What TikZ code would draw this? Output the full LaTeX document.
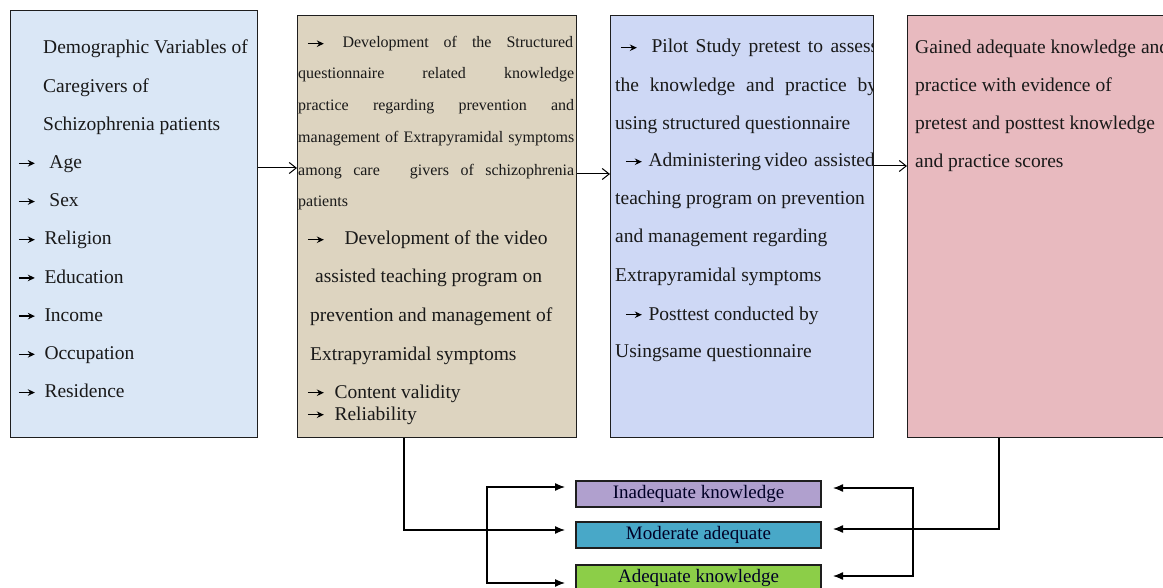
\documentclass[tikz,border=0pt]{standalone}
\usepackage{fontspec}
\setmainfont{Liberation Serif}
\usetikzlibrary{arrows.meta}
\definecolor{cA}{RGB}{218,231,246}
\definecolor{cB}{RGB}{221,212,192}
\definecolor{cC}{RGB}{206,216,245}
\definecolor{cD}{RGB}{232,186,191}
\definecolor{cI}{RGB}{176,160,206}
\definecolor{cM}{RGB}{72,168,200}
\definecolor{cG}{RGB}{140,206,72}
\definecolor{edge}{RGB}{30,30,30}
\newcommand\tarr{\tikz[baseline=-0.27em]\draw[black,line width=1.3pt,-{Stealth[length=7pt,width=6.5pt]}] (0pt,0pt) -- (16pt,0pt);}
\newcommand\bigf{\fontsize{19.5}{23}\selectfont}
\newcommand\smallf{\fontsize{16}{19}\selectfont}
\begin{document}
\begin{tikzpicture}[x=1pt,y=-1pt,
  panel/.style={draw=edge,line width=1.4pt,anchor=north west,inner sep=0pt},
  ln/.style={anchor=base west,inner sep=0pt,font=\bigf,text=black!90},
  sln/.style={anchor=base west,inner sep=0pt,font=\smallf,text=black!90},
  res/.style={draw=edge,line width=1.4pt,minimum width=245pt,minimum height=26pt,inner sep=0pt,font=\fontsize{19}{22}\selectfont,text=black!85!blue},
  flow/.style={line width=1pt,-{Straight Barb[length=7pt,width=11pt]}},
  bar/.style={line width=1.3pt}
]
\useasboundingbox (0,0) rectangle (1163,588);
\fill[white] (0,0) rectangle (1163,588);
% panels
\node[panel,fill=cA,minimum width=247pt,minimum height=427pt] (B1) at (10,10) {};
\node[panel,fill=cB,minimum width=279pt,minimum height=422pt] (B2) at (297,15) {};
\node[panel,fill=cC,minimum width=263pt,minimum height=422pt] (B3) at (610,15) {};
\node[panel,fill=cD,minimum width=270pt,minimum height=422pt] (B4) at (907,15) {};
% box 1 text
\node[ln] (a1) at (43,54) {Demographic Variables of};
\node[ln] (a2) at (43,92.2) {Caregivers of};
\node[ln] (a3) at (43,130.4) {Schizophrenia patients};
\node[ln] (a4) at (18,168.6) {\tarr\hspace{14pt}Age};
\node[ln] (a5) at (18,206.8) {\tarr\hspace{14pt}Sex};
\node[ln] (a6) at (18,245) {\tarr\hspace{9pt}Religion};
\node[ln] (a7) at (18,283.2) {\tarr\hspace{9pt}Education};
\node[ln] (a8) at (18,321.4) {\tarr\hspace{9pt}Income};
\node[ln] (a9) at (18,359.6) {\tarr\hspace{9pt}Occupation};
\node[ln] (a10) at (18,397.8) {\tarr\hspace{9pt}Residence};
% box 2 text
\node[sln] (b1) at (307,48) {\makebox[266pt][s]{\tarr\hspace{18pt}Development of the Structured}};
\node[sln] (b2) at (298,79) {\makebox[276pt][s]{questionnaire related knowledge}};
\node[sln] (b3) at (298,111) {\makebox[276pt][s]{practice regarding prevention and}};
\node[sln] (b4) at (298,143) {\makebox[276pt][s]{management of Extrapyramidal symptoms}};
\node[sln] (b5) at (298,176) {\makebox[276pt][s]{among care\hspace{30pt}givers of schizophrenia}};
\node[sln] (b6) at (298,207) {patients};
\node[ln] (b7) at (307,245) {\tarr\hspace{20pt}Development of the video};
\node[ln] (b8) at (315,283) {assisted teaching program on};
\node[ln] (b9) at (310,322) {prevention and management of};
\node[ln] (b10) at (310,360) {Extrapyramidal symptoms};
\node[ln] (b11) at (307,398) {\tarr\hspace{10pt}Content validity};
\node[ln] (b12) at (307,420) {\tarr\hspace{10pt}Reliability};
% box 3 text
\begin{scope}
\clip (610,15) rectangle (873.6,437);
\node[ln] (c1) at (620,53) {\makebox[258pt][s]{\tarr\hspace{14pt}Pilot Study pretest to assess}};
\node[ln] (c2) at (615,92) {\makebox[262pt][s]{the knowledge and practice by}};
\node[ln] (c3) at (615,130) {using structured questionnaire};
\node[ln] (c4) at (625,167) {\makebox[248pt][s]{\tarr\hspace{6pt}Administering video\ \ assisted}};
\node[ln] (c5) at (615,205) {teaching program on prevention};
\node[ln] (c6) at (615,243) {and management regarding};
\node[ln] (c7) at (615,282) {Extrapyramidal symptoms};
\node[ln] (c8) at (625,320) {\tarr\hspace{6pt}Posttest conducted by};
\node[ln] (c9) at (615,358) {Usingsame questionnaire};
\end{scope}
% box 4 text
\node[ln] (d1) at (915,54) {Gained adequate knowledge and};
\node[ln] (d2) at (915,92) {practice with evidence of};
\node[ln] (d3) at (915,130) {pretest and posttest knowledge};
\node[ln] (d4) at (915,168) {and practice scores};
% flow arrows
\draw[flow] (B1.east |- 0,168) -- (B2.west |- 0,168);
\draw[flow] (B2.east |- 0,174) -- (B3.west |- 0,174);
\draw[flow] (B3.east |- 0,166) -- (B4.west |- 0,166);
% result boxes
\node[res,fill=cI] (I) at (698.5,494) {Inadequate knowledge};
\node[res,fill=cM] (M) at (698.5,535) {Moderate adequate};
\node[res,fill=cG] (A) at (698.5,578) {Adequate knowledge};
% bottom connectors
\coordinate (iL) at (565,487);
\coordinate (mL) at (565,530);
\coordinate (aL) at (565,583);
\coordinate (lb1) at (487,487);
\coordinate (lb2) at (487,583);
\coordinate (iR) at (833,488);
\coordinate (mR) at (833,529);
\coordinate (aR) at (833,576);
\coordinate (rb1) at (913,488);
\coordinate (rb2) at (913,576);
\draw[bar,-{Latex[length=10pt,width=8pt]}] (B2.south -| 404,0) |- (mL);
\draw[bar,{Latex[length=10pt,width=8pt]}-{Latex[length=10pt,width=8pt]}] (iL) -- (lb1) -- (lb2) -- (aL);
\draw[bar,-{Latex[length=10pt,width=8pt]}] (B4.south -| 999,0) |- (mR);
\draw[bar,{Latex[length=10pt,width=8pt]}-{Latex[length=10pt,width=8pt]}] (iR) -- (rb1) -- (rb2) -- (aR);
\end{tikzpicture}
\end{document}
